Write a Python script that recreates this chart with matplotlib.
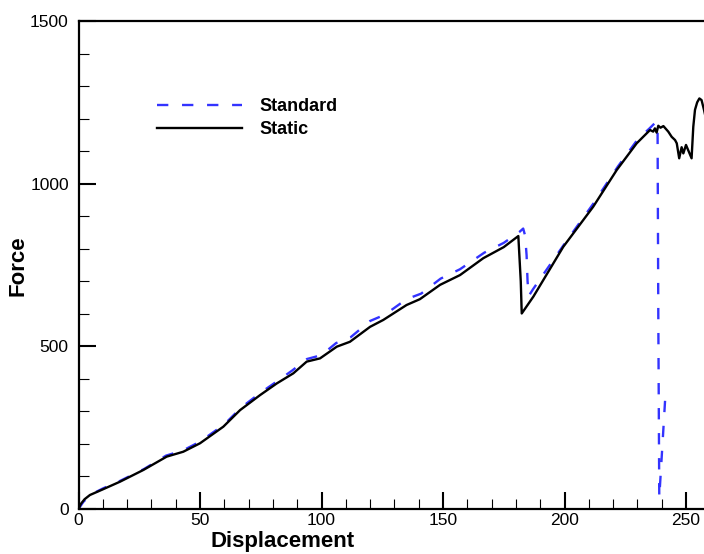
import matplotlib
matplotlib.use("Agg")
import matplotlib.pyplot as plt
from matplotlib.ticker import MultipleLocator

plt.rcParams['font.family'] = ['Liberation Sans', 'DejaVu Sans']

# Static (black solid)
static_x = [0, 1, 2.5, 4.7, 10.2, 17.1, 26.7, 36.3, 43.1, 50, 59.6, 66.5, 74.7, 81.6, 88.4,
            93.9, 99.4, 106.3, 111.7, 120, 125.4, 135, 140.5, 148.8, 157, 166.6, 175, 181,
            182, 182.4, 187.2, 199.5, 211.8, 221.5, 229.7, 235.2, 236.5, 237.2, 237.9, 238.6,
            239.5, 240.7, 242.7, 244.1, 245.5, 246.2, 247.2, 248.2, 248.9, 250, 250.9, 252.3,
            253, 253.7, 254.6, 255.5, 256.4, 257.4, 258.5]
static_y = [0, 16, 30, 43, 61, 84, 120, 161, 176, 202, 253, 304, 350, 386, 417,
            453, 463, 499, 514, 560, 581, 627, 645, 689, 719, 771, 805, 839,
            700, 601, 653, 806, 929, 1042, 1124, 1165, 1160, 1170, 1157, 1178,
            1172, 1177, 1160, 1144, 1134, 1124, 1078, 1112, 1093, 1119, 1103, 1078,
            1175, 1227, 1250, 1262, 1257, 1227, 1190]

# Standard (blue dashed)
std_x = [0, 2, 5, 10, 17, 27, 36, 43, 50, 60, 67, 75, 82, 88, 94, 100, 106, 112, 120,
         126, 135, 141, 149, 157, 167, 175, 181.5, 183, 183.8, 184.4, 184.8, 185.3, 187,
         200, 212, 222, 230, 235, 237.7, 238.3, 238.6, 239, 241.7]
std_y = [0, 22, 44, 63, 86, 123, 164, 180, 207, 260, 312, 358, 394, 426, 461, 473, 510,
         528, 578, 597, 645, 662, 708, 737, 788, 818, 852, 862, 840, 780, 700, 655, 675,
         815, 940, 1053, 1135, 1170, 1190, 1170, 600, 35, 372]

fig = plt.figure(figsize=(7.04, 5.54), dpi=100)
W, H = 704, 554
left_px, right_px, top_px, bot_px = 78.5, 78.5 + 300 * 2.43, 21, 509
ax = fig.add_axes([left_px / W, (H - bot_px) / H, (right_px - left_px) / W, (bot_px - top_px) / H])

ax.plot(std_x, std_y, color='#3333ff', lw=1.7, linestyle=(0, (4.8, 5.8)), label='Standard')
ax.plot(static_x, static_y, color='black', lw=1.7, label='Static')

ax.set_xlim(0, 300)
ax.set_ylim(0, 1500)
ax.xaxis.set_major_locator(MultipleLocator(50))
ax.xaxis.set_minor_locator(MultipleLocator(10))
ax.yaxis.set_major_locator(MultipleLocator(500))
ax.yaxis.set_minor_locator(MultipleLocator(100))
ax.tick_params(which='major', direction='in', length=12, width=1.5, labelsize=12.5)
ax.tick_params(which='minor', direction='in', length=7, width=0.8)
ax.tick_params(axis='x', which='major', pad=3)
ax.tick_params(axis='y', which='major', pad=7)
for s in ax.spines.values():
    s.set_linewidth(1.6)

fig.text(282.5 / W, 1 - 541 / H, 'Displacement', fontsize=16, fontweight='bold',
         ha='center', va='center')
fig.text(18 / W, 1 - 265.5 / H, 'Force', fontsize=16, fontweight='bold',
         ha='center', va='center', rotation=90)

leg = ax.legend(loc='upper left', bbox_to_anchor=(148 / W, 1 - 89 / H),
                bbox_transform=fig.transFigure, frameon=False, handlelength=4.7,
                handletextpad=1.0, labelspacing=0.35, borderpad=0,
                prop={'size': 13, 'weight': 'bold'})

fig.savefig('out.png', dpi=100)
